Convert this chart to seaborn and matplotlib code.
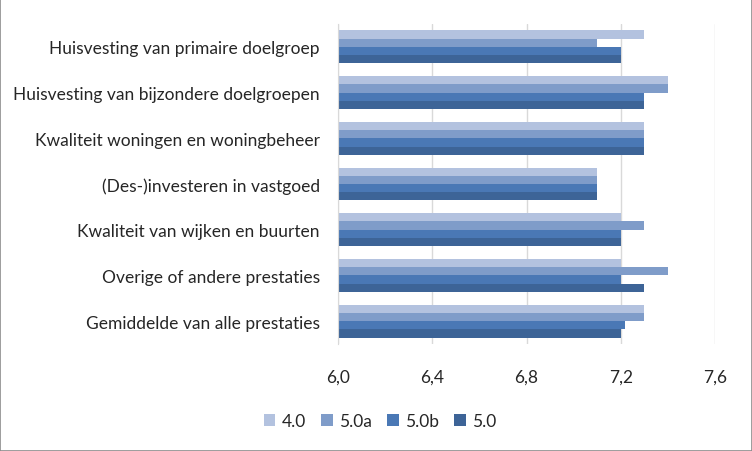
import pandas as pd
import matplotlib.pyplot as plt
import seaborn as sns

categories = ['Huisvesting van primaire doelgroep',
              'Huisvesting van bijzondere doelgroepen',
              'Kwaliteit woningen en woningbeheer',
              '(Des-)investeren in vastgoed',
              'Kwaliteit van wijken en buurten',
              'Overige of andere prestaties',
              'Gemiddelde van alle prestaties']
series = ['4.0', '5.0a', '5.0b', '5.0']
v40 = [7.3, 7.4, 7.3, 7.1, 7.2, 7.2, 7.3]
v50a = [7.1, 7.4, 7.3, 7.1, 7.3, 7.4, 7.3]
v50b = [7.2, 7.3, 7.3, 7.1, 7.2, 7.2, 7.22]
v50 = [7.2, 7.3, 7.3, 7.1, 7.2, 7.3, 7.2]
ticks = [6.0, 6.4, 6.8, 7.2, 7.6]
tick_labels = ['6,0', '6,4', '6,8', '7,2', '7,6']

rows = []
for s, vals in zip(series, [v40, v50a, v50b, v50]):
    for c, v in zip(categories, vals):
        rows.append({'categorie': c, 'versie': s, 'score': v})
df = pd.DataFrame(rows)

kleuren = ['#B3C2DF', '#7F9CC9', '#4A78B5', '#3D6497']

sns.set_style('white')
plt.rcParams['font.family'] = ['Lato', 'DejaVu Sans']
fs = 12.5

fig = plt.figure(figsize=(7.52, 4.52), dpi=100)
ax = fig.add_axes([338 / 752, 1 - 345 / 452, (715 - 338) / 752, (345 - 25) / 452])
sns.barplot(data=df, y='categorie', x='score', hue='versie', hue_order=series,
            palette=kleuren, orient='h', width=0.72, ax=ax, saturation=1,
            linewidth=0, edgecolor='none')

ax.set_xlim(6.0, 7.6)
ax.set_xticks(ticks)
ax.set_xticklabels(tick_labels, fontsize=fs)
ax.tick_params(axis='y', labelsize=fs, length=0, pad=13)
ax.tick_params(axis='x', length=0, pad=18)
ax.set_xlabel('')
ax.set_ylabel('')
ax.grid(axis='x', color='#D9D9D9', linewidth=1)
ax.set_axisbelow(True)
for kant in ['top', 'right', 'bottom']:
    ax.spines[kant].set_visible(False)
ax.spines['left'].set_color('#D9D9D9')

ax.legend(loc='center', bbox_to_anchor=((380 - 338) / 377, -77 / 320), ncol=4,
          frameon=False, fontsize=fs, handlelength=0.65, handleheight=0.65,
          handletextpad=0.35, columnspacing=0.9)

fig.patches.append(plt.Rectangle((0, 0), 1, 1, transform=fig.transFigure,
                                 fill=False, edgecolor='#8C8C8C', linewidth=1.2))

plt.savefig('out.png', dpi=100)
